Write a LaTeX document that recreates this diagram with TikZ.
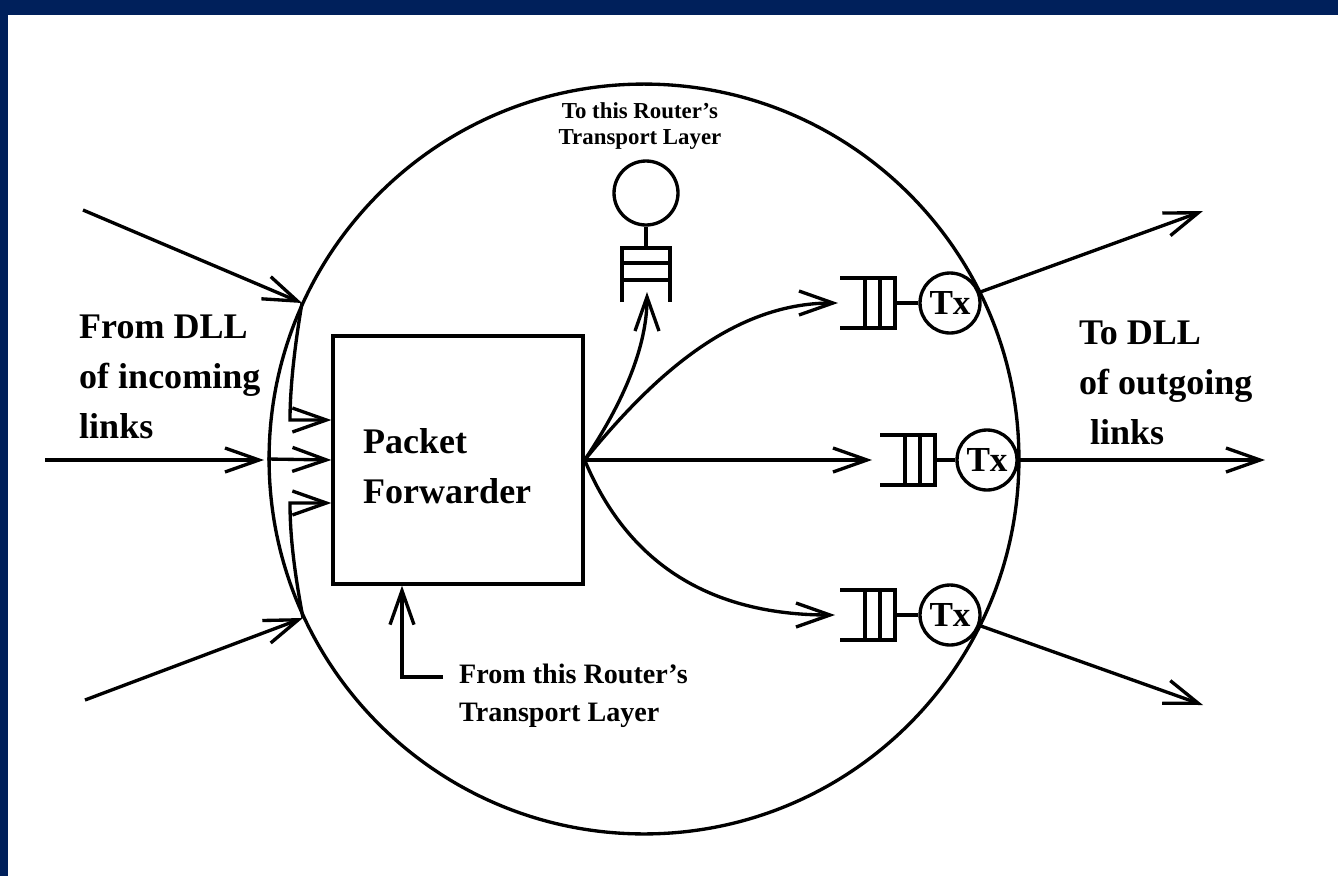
\documentclass[tikz,border=0pt]{standalone}
\usepackage{fontspec}
\setmainfont{Liberation Serif}
\usetikzlibrary{arrows.meta, positioning}
\definecolor{framebg}{HTML}{00205B}
\tikzset{
    plain/.style={line width=1.9pt},
    flow/.style={line width=1.9pt, -{Straight Barb[length=6.8mm, width=4.8mm]}},
    txnode/.style={draw, circle, line width=1.9pt, minimum size=1.2cm, inner sep=0pt, font=\fontsize{20}{22}\selectfont\bfseries},
    bigtext/.style={align=left, font=\fontsize{20.5}{28.5}\selectfont\bfseries},
    toptext/.style={align=center, font=\fontsize{13}{14.5}\selectfont\bfseries},
    bottext/.style={align=left, font=\fontsize{16}{21.5}\selectfont\bfseries}
}

\begin{document}
\begin{tikzpicture}[x=0.02cm, y=-0.02cm]
    \useasboundingbox (0,0) rectangle (1338,876);
    % Cornice blu
    \fill[framebg] (0,0) rectangle (1338,15);
    \fill[framebg] (0,0) rectangle (8,876);

    % Router e forwarder
    \node[draw, circle, line width=1.9pt, minimum size=15cm, inner sep=0pt] (router) at (644,459) {};
    \node[draw, line width=1.9pt, minimum width=5cm, minimum height=4.96cm, inner sep=0pt] (fwd) at (458,460) {};
    \node[bigtext, anchor=west] (fwdlabel) at (357,466) {Packet\\Forwarder};

    % Code di uscita con trasmettitori
    \foreach \xl/\yc in {840/303, 880/460, 840/615}{
        \draw[plain] (\xl,\yc-25) -- ++(55,0) -- ++(0,50) -- ++(-55,0);
        \draw[plain] (\xl+25,\yc-25) -- ++(0,50) (\xl+40,\yc-25) -- ++(0,50);
    }
    \node[txnode] (tx1) at (950,303) {Tx};
    \node[txnode] (tx2) at (987,460) {Tx};
    \node[txnode] (tx3) at (950,615) {Tx};
    \coordinate (q1out) at (895,303);
    \coordinate (q2out) at (935,460);
    \coordinate (q3out) at (895,615);
    \draw[plain] (q1out) -- (tx1);
    \draw[plain] (q2out) -- (tx2);
    \draw[plain] (q3out) -- (tx3);

    % Coda verso il livello di trasporto
    \draw[plain] (622,302) -- (622,248) -- (670,248) -- (670,302);
    \draw[plain] (622,263) -- (670,263) (622,280) -- (670,280);
    \node[draw, circle, line width=1.9pt, minimum size=1.28cm, inner sep=0pt] (tlc) at (646,193) {};
    \coordinate (tqtop) at (646,248);
    \draw[plain] (tqtop) -- (tlc);
    \node[toptext] (tolabel) at (640,126) {To this Router's\\Transport Layer};

    % Uscite del forwarder
    \coordinate (tq) at (647,292);
    \coordinate (q1in) at (838,303);
    \coordinate (q2in) at (872,460);
    \coordinate (q3in) at (835,615);
    \draw[flow] (fwd.east) .. controls (625,400) and (647,345) .. (tq);
    \draw[flow] (fwd.east) .. controls (650,380) and (730,303) .. (q1in);
    \draw[flow] (fwd.east) -- (q2in);
    \draw[flow] (fwd.east) .. controls (620,545) and (690,615) .. (q3in);

    % Collegamenti in ingresso
    \coordinate (in1) at (83,210);
    \coordinate (c1) at (302,303);
    \coordinate (in2) at (45,460);
    \coordinate (c2) at (264,460);
    \coordinate (in3) at (85,700);
    \coordinate (c3) at (303,618);
    \draw[flow] (in1) -- (c1);
    \draw[flow] (in2) -- (c2);
    \draw[flow] (in3) -- (c3);
    \draw[flow] (c1) .. controls (294,350) and (290,390) .. (290,420) -- ([yshift=0.8cm]fwd.west);
    \draw[flow] (router.west) -- (fwd.west);
    \draw[flow] (c3) .. controls (294,570) and (290,535) .. (290,503) -- ([yshift=-0.86cm]fwd.west);
    \node[bigtext, anchor=west] (inlabel) at (73,377) {From DLL\\of incoming\\links};

    % Collegamenti in uscita
    \coordinate (out1) at (1203,211);
    \coordinate (out2) at (1265,460);
    \coordinate (out3) at (1203,705);
    \draw[flow] (tx1) -- (out1);
    \draw[flow] (tx2) -- (out2);
    \draw[flow] (tx3) -- (out3);
    \node[bigtext, anchor=west] (outlabel) at (1073,383) {To DLL\\of outgoing\\\hspace*{0.3em}links};

    % Dal livello di trasporto
    \coordinate (tlstart) at (443,677);
    \coordinate (tcorner) at (402,677);
    \draw[flow] (tlstart) -- (tcorner) -- (tcorner |- fwd.south);
    \node[bottext, anchor=west] (fromlabel) at (453,696) {From this Router's\\Transport Layer};
\end{tikzpicture}
\end{document}
